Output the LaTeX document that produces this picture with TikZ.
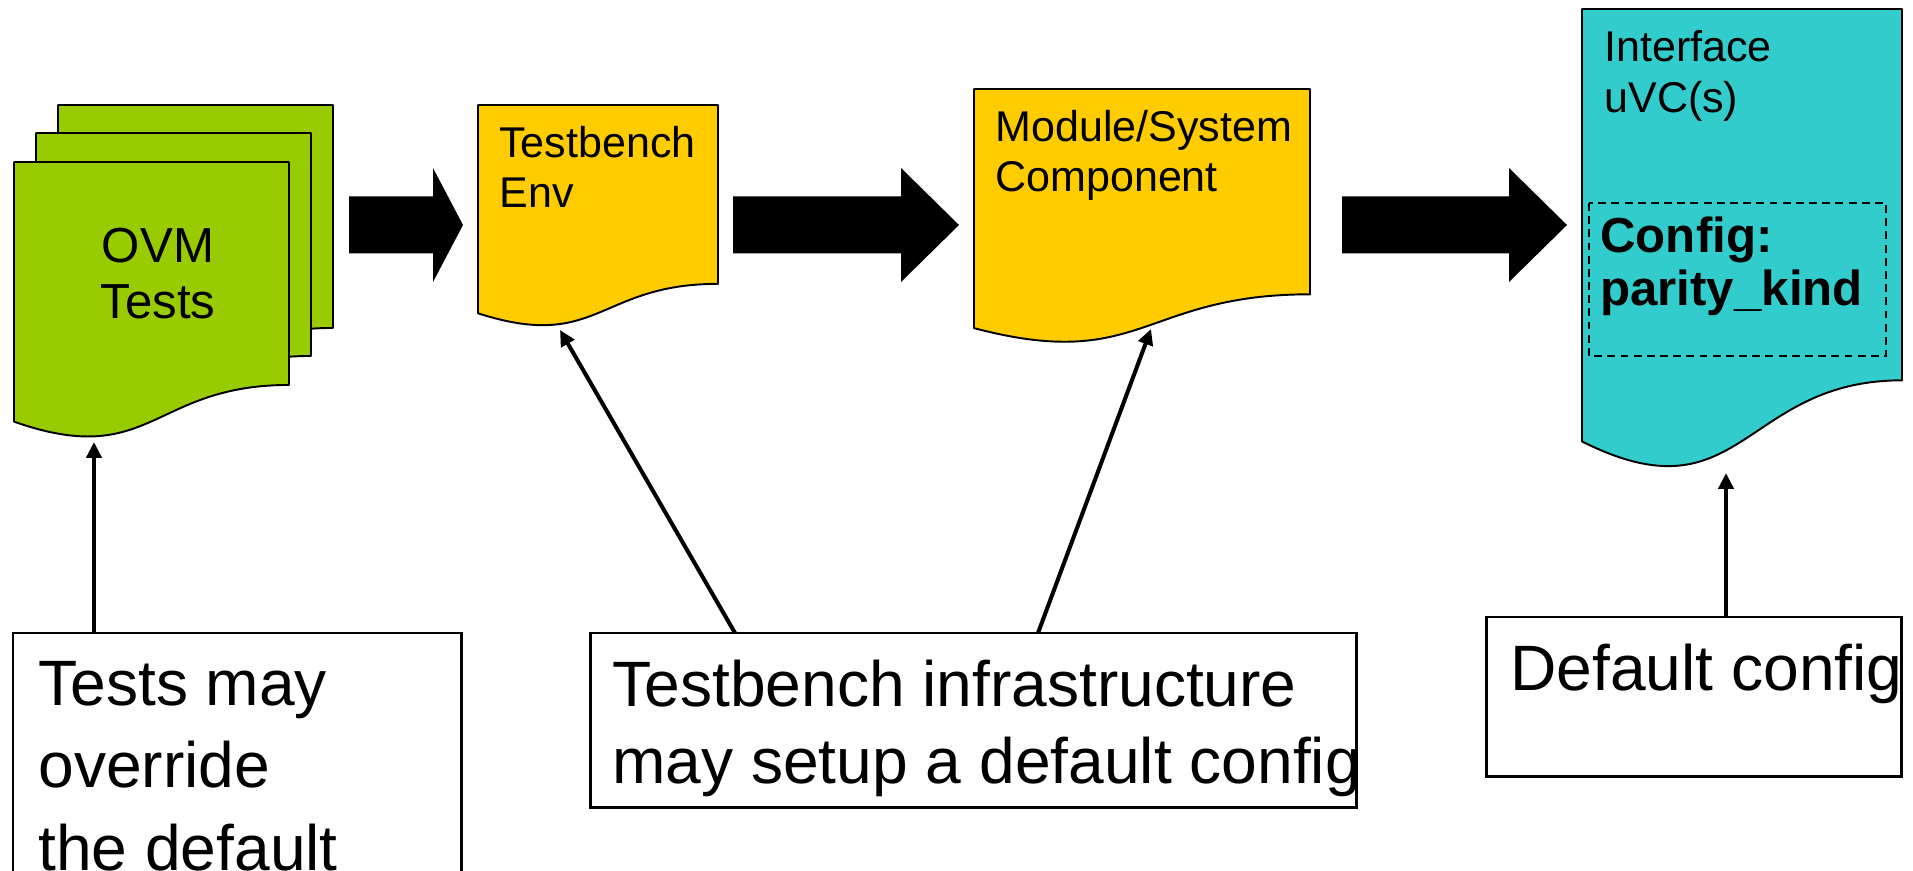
\documentclass[tikz,border=0pt]{standalone}
\usepackage{fontspec}
\setmainfont{Liberation Sans}
\usetikzlibrary{arrows.meta,calc}

\definecolor{testgreen}{HTML}{99CC00}
\definecolor{envgold}{HTML}{FFCC00}
\definecolor{uvcteal}{HTML}{33CCCC}

\tikzset{
        docline/.style={draw=black,line width=1.1pt,line join=round},
        bigarrow/.style={fill=black},
        notebox/.style={draw=black,line width=1.7pt,inner sep=0pt,outer sep=0pt,anchor=north west},
        pointer/.style={line width=2.3pt,-{Triangle[length=9pt,width=8.5pt]}},
        doctext/.style={inner sep=0pt,align=left,anchor=base west,font=\fontsize{24.5}{29}\selectfont},
        notetext/.style={inner sep=0pt,align=left,anchor=base west}
}

% document shape: left, top, width, height, fill
\newcommand{\docshape}[5]{%
        \path[docline,fill=#5] (#1,#2) -- ({#1+#3},#2) -- ({#1+#3},{#2+0.802*#4})
                .. controls ({#1+0.5*#3},{#2+0.802*#4}) and ({#1+0.5*#3},{#2+1.1075*#4}) .. (#1,{#2+0.934*#4}) -- cycle;}

% block arrow: shaft start, head base, tip
\newcommand{\blockarrow}[3]{%
        \fill[bigarrow] (#1,196.5) -- (#2,196.5) -- (#2,168) -- (#3,225) -- (#2,282) -- (#2,253.5) -- (#1,253.5) -- cycle;}

\begin{document}
\begin{tikzpicture}[x=0.02cm,y=-0.02cm]
        \useasboundingbox (0,0) rectangle (1913,871);

        \docshape{58}{105}{275}{278}{testgreen}
        \docshape{36}{133}{275}{278}{testgreen}
        \docshape{14}{162}{275}{278}{testgreen}
        \docshape{478}{105}{240}{223}{envgold}
        \docshape{974}{89}{336}{256}{envgold}
        \docshape{1582}{9}{320}{463}{uvcteal}

        \node[inner sep=0pt,align=center,anchor=base,font=\fontsize{28}{32.3}\selectfont] (ovm) at (158,319) {OVM\\Tests};
        \node[doctext] (env) at (499,208) {Testbench\\Env};
        \node[doctext] (module) at (995,192) {Module/System\\Component};
        \node[doctext,font=\fontsize{24.5}{29.5}\selectfont] (uvc) at (1604,113) {Interface\\uVC(s)};

        \draw[dashed,line width=0.85pt,dash pattern=on 4.5pt off 3pt] (1589,203) rectangle (1886,356);
        \node[doctext,font=\fontsize{28}{30.6}\selectfont\bfseries] (config) at (1600,306) {Config:\\parity\_kind};

        \blockarrow{349}{433}{463}
        \blockarrow{733}{901}{959}
        \blockarrow{1342}{1509}{1567}

        \coordinate (ovmin) at (94,442);
        \coordinate (envin) at (560,330);
        \coordinate (modulein) at (1151,329);
        \coordinate (uvcin) at (1726,473);

        \node[notebox,minimum width=8.98cm,minimum height=5.6cm] (testsnote) at (13,633) {};
        \node[notebox,minimum width=15.34cm,minimum height=3.5cm] (envnote) at (590,633) {};
        \node[notebox,minimum width=8.32cm,minimum height=3.2cm] (defaultnote) at (1486,617) {};

        \node[notetext,font=\fontsize{36.5}{46.8}\selectfont] (testsnotetext) at (38,870) {Tests may\\override\\the default};
        \node[notetext,font=\fontsize{36.5}{43.7}\selectfont] (envnotetext) at (612,783) {Testbench infrastructure\\may setup a default config};
        \node[notetext,font=\fontsize{36.5}{43.7}\selectfont] (defaultnotetext) at (1510,690) {Default config};

        \draw[pointer] (testsnote.north -| ovmin) -- (ovmin);
        \draw[pointer] ($(envnote.north west)+(145,0)$) -- (envin);
        \draw[pointer] ($(envnote.north west)+(448,0)$) -- (modulein);
        \draw[pointer] (defaultnote.north -| uvcin) -- (uvcin);
\end{tikzpicture}
\end{document}
